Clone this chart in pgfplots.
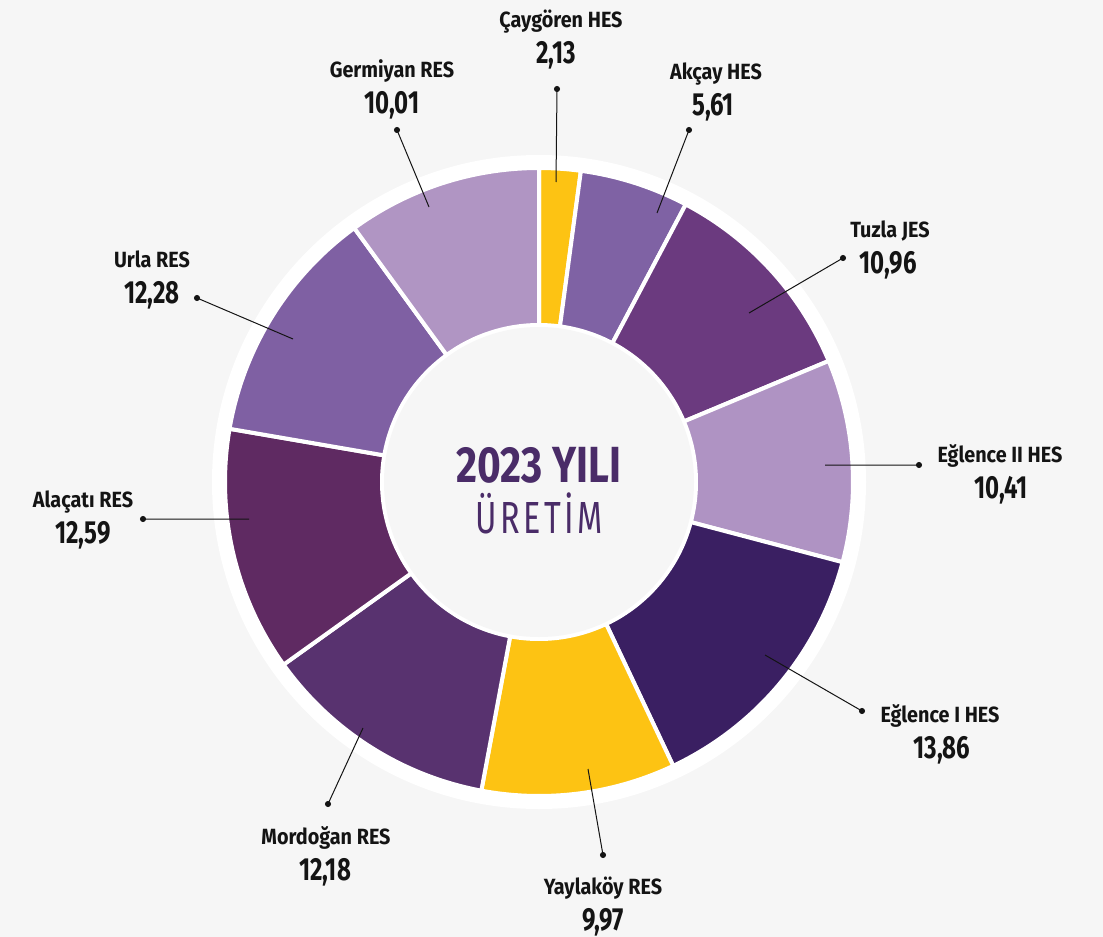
\documentclass[border=0pt]{standalone}
\usepackage{pgfplots}
\usepackage{pgfplotstable}
\pgfplotsset{compat=1.18}
\usepackage{fontspec}
\setmainfont{Fira Sans}
\newfontfamily\namefont{Fira Sans}[FakeStretch=0.9]
\newfontfamily\valfont{Fira Sans}[FakeStretch=0.75]
\newfontfamily\titlefont{Fira Sans}[FakeStretch=0.8]
\newfontfamily\subfont{Fira Sans}[FakeStretch=0.72, LetterSpace=8]

\definecolor{bg}{HTML}{F6F6F6}
\definecolor{ink}{HTML}{141414}
\definecolor{titlepurple}{HTML}{4A2C68}

% share of production (%), clockwise from 12 o'clock; label positions in px
\pgfplotstableread[col sep=comma]{
plant,share,colour,lx,ly,vx
Çaygören HES,2.13,FDC313,561,18,556
Akçay HES,5.61,7F62A4,716,70,713
Tuzla JES,10.96,6B3A7F,890,228,888
Eğlence II HES,10.41,AF93C3,1000,453,1001
Eğlence I HES,13.86,3A1F62,940,713,942
Yaylaköy RES,9.97,FDC313,603,885,603
Mordoğan RES,12.18,58326F,326,835,325
Alaçatı RES,12.59,5F2A62,83,498,83
Urla RES,12.28,7F60A3,152,258,152
Germiyan RES,10.01,B095C3,392,68,392
}\shares

% leader lines: dot at the label, end inside the slice
\pgfplotstableread{
x y
557 89
556 182
nan nan
689 130
657 213
nan nan
843 258
749 313
nan nan
919 465
825 465
nan nan
862 711
765 655
nan nan
603 855
588 769
nan nan
328 804
363 728
nan nan
143 519
249 519
nan nan
197 298
293 339
nan nan
397 130
429 207
}\leaders

\pgfplotstableread{
x y
557 89
689 130
843 258
919 465
862 711
603 855
328 804
143 519
197 298
397 130
}\dots

\def\cum{0}
\pgfplotsforeachungrouped \i in {0,...,9}{%
  \pgfplotstablegetelem{\i}{share}\of\shares
  \let\val\pgfplotsretval
  \pgfmathsetmacro\angA{90-3.6*\cum}%
  \pgfmathsetmacro\cum{\cum+\val}%
  \pgfmathsetmacro\angB{90-3.6*\cum}%
  \expandafter\xdef\csname sA\i\endcsname{\angA}%
  \expandafter\xdef\csname sB\i\endcsname{\angB}%
  \expandafter\xdef\csname sV\i\endcsname{\val}%
  \pgfplotstablegetelem{\i}{plant}\of\shares
  \expandafter\xdef\csname sN\i\endcsname{\pgfplotsretval}%
  \pgfplotstablegetelem{\i}{lx}\of\shares
  \expandafter\xdef\csname lx\i\endcsname{\pgfplotsretval}%
  \pgfplotstablegetelem{\i}{ly}\of\shares
  \expandafter\xdef\csname ly\i\endcsname{\pgfplotsretval}%
  \pgfplotstablegetelem{\i}{vx}\of\shares
  \expandafter\xdef\csname vx\i\endcsname{\pgfplotsretval}%
  \pgfplotstablegetelem{\i}{colour}\of\shares
  \edef\tmp{\noexpand\definecolor{slice\i}{HTML}{\pgfplotsretval}}\tmp
}

\begin{document}
\begin{tikzpicture}
\begin{axis}[
    x=0.5pt, y=0.5pt,
    xmin=0, xmax=1103,
    ymin=0, ymax=937,
    y dir=reverse,
    hide axis,
    clip=false,
]
\fill[bg] (axis cs:0,0) rectangle (axis cs:1103,937);
\fill[white] (axis cs:539,482) circle[radius=163.5pt];

\pgfplotsinvokeforeach{0,...,9}{
  \fill[fill=slice#1, draw=white, line width=2pt]
    (axis cs:539,482) ++(\csname sA#1\endcsname:157pt)
    arc[start angle=\csname sA#1\endcsname, end angle=\csname sB#1\endcsname, radius=157pt]
    -- ++(\csname sB#1\endcsname:-78.5pt)
    arc[start angle=\csname sB#1\endcsname, end angle=\csname sA#1\endcsname, radius=78.5pt]
    -- cycle;
}

\fill[bg] (axis cs:539,482) circle[radius=77.5pt];

\addplot[ink, line width=0.5pt, unbounded coords=jump] table {\leaders};
\addplot[only marks, mark=*, mark size=1.3pt, ink] table {\dots};

\pgfplotsinvokeforeach{0,...,9}{
  \node[anchor=base, text=ink, inner sep=0pt,
        font=\namefont\bfseries\fontsize{11}{13}\selectfont]
    at (axis cs:\csname lx#1\endcsname,{\csname ly#1\endcsname+9}) {\csname sN#1\endcsname};
  \node[anchor=base, text=ink, inner sep=0pt,
        font=\valfont\bfseries\fontsize{16}{18}\selectfont]
    at (axis cs:\csname vx#1\endcsname,{\csname ly#1\endcsname+45})
    {\pgfmathprintnumber[fixed, fixed zerofill, precision=2, use comma, assume math mode=true]{\csname sV#1\endcsname}};
}

\node[anchor=base, text=titlepurple, inner sep=0pt,
      font=\titlefont\bfseries\fontsize{25.4}{28}\selectfont]
  at (axis cs:539,482) {2023 YILI};
\node[anchor=base, text=titlepurple, inner sep=0pt,
      font=\subfont\fontsize{22.5}{25}\selectfont]
  at (axis cs:539,533) {ÜRETİM};
\end{axis}
\end{tikzpicture}
\end{document}
